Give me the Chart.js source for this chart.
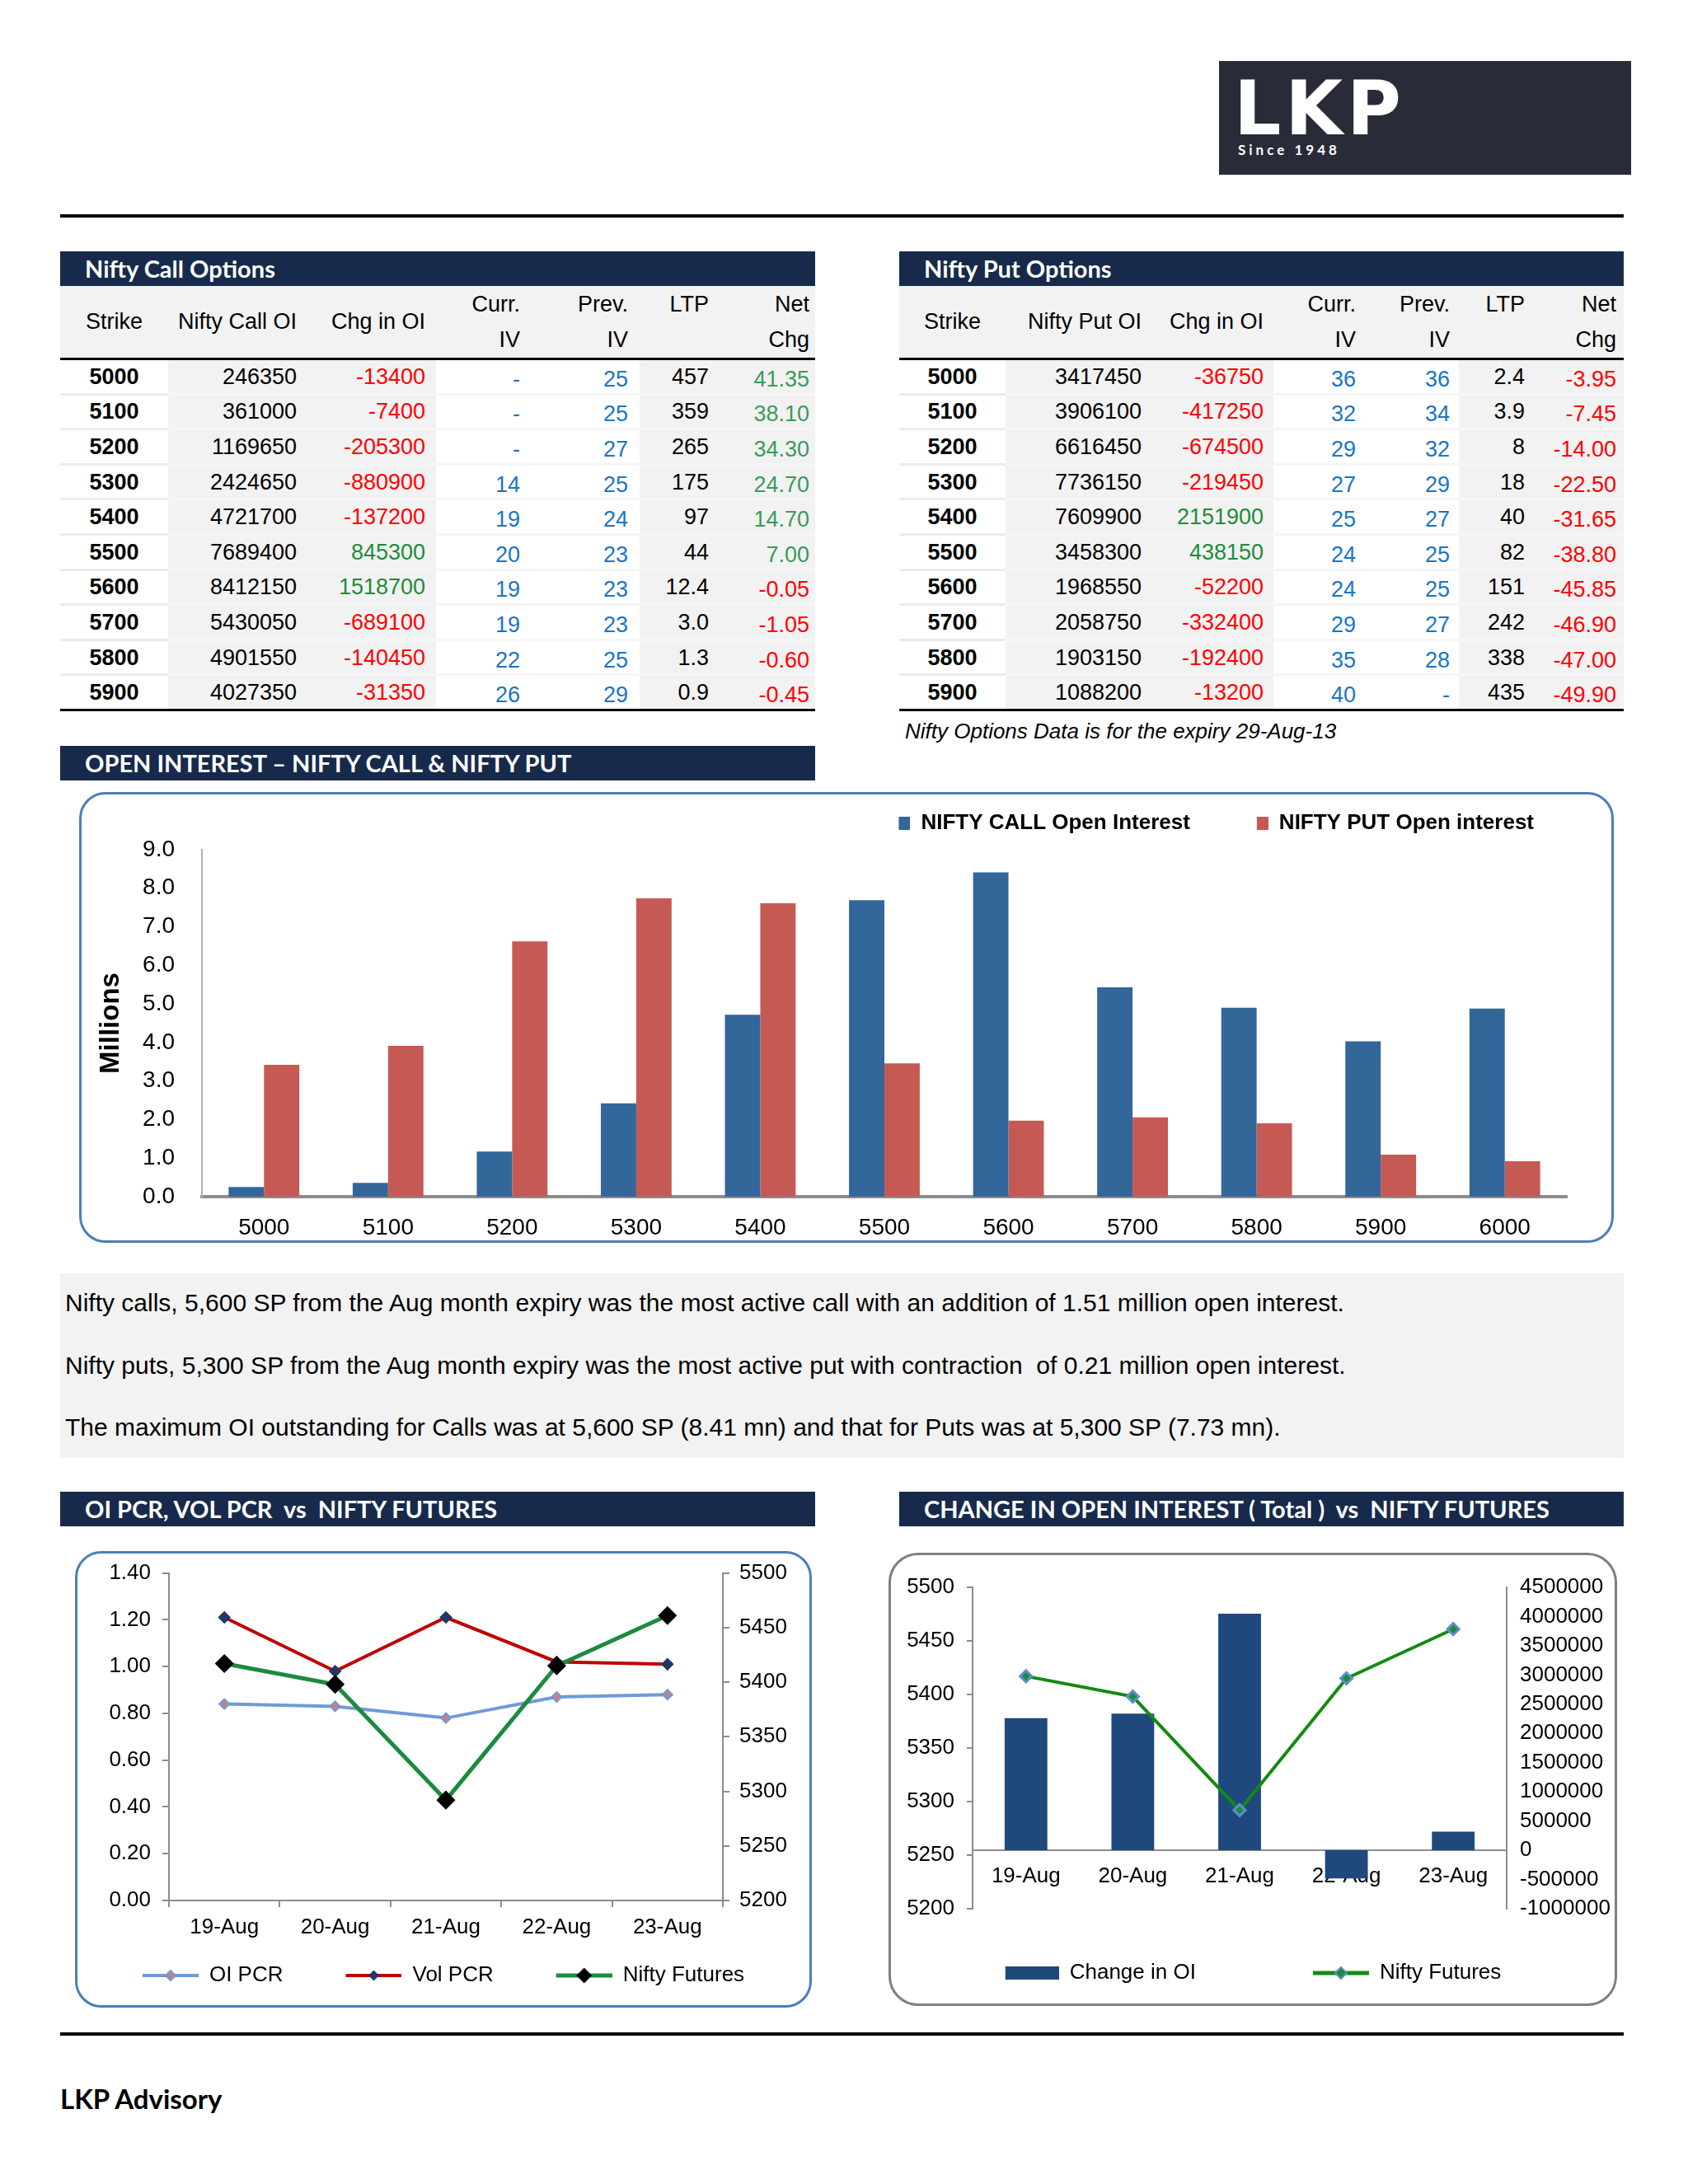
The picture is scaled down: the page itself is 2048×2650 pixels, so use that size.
<!DOCTYPE html>
<html>
<head>
<meta charset="utf-8">
<script src="https://cdn.jsdelivr.net/npm/chart.js@4.4.0/dist/chart.umd.min.js"></script>
<style>
  body { margin: 0; width: 2048px; height: 2650px; background: #fff; position: relative; overflow: hidden;
         font-family: "Liberation Sans", Arial, sans-serif; color: #000; }
  .abs { position: absolute; }
  .logo { left: 1479px; top: 74px; width: 500px; height: 138px; background: #2a2b38; }
  .logo .big { position: absolute; left: 18px; top: 13px; font: 700 90px/1 "DejaVu Sans", sans-serif; color: #fff; letter-spacing: 5px; }
  .logo .since { position: absolute; left: 23px; top: 99px; font: 700 17px/1 Lato, sans-serif; color: #fff; letter-spacing: 4px; }
  .rule { left: 73px; width: 1897px; height: 4px; background: #000; }
  .bar { height: 42px; background: #172a4b; color: #fff; font: 700 29px/42px Lato, sans-serif; box-sizing: border-box; padding-left: 30px; white-space: pre; }
  table.opt { position: absolute; border-collapse: separate; border-spacing: 0; table-layout: fixed; font-size: 27px; }
  table.opt tr.hd { height: 90px; }
  table.opt tr.rw { height: 42.6px; }
  table.opt th { background: #f2f2f2; font-weight: normal; line-height: 43px; text-align: right;
                 border-bottom: 3px solid #000; padding: 0; vertical-align: middle; }
  table.opt td { padding: 0; line-height: 30px; text-align: right; border-bottom: 3px solid #f6f6f6; vertical-align: middle; }
  table.opt td.k { text-align: center; font-weight: bold; background: #fff; border-bottom-color: #ececec; }
  table.opt td.g { background: #f2f2f2; }
  table.opt td.w { background: #fff; }
  table.opt td span.low { position: relative; top: 3px; }
  table.opt tr:last-child td { border-bottom: 3px solid #000; }
  .box { box-sizing: border-box; border: 3px solid #4a7ebb; border-radius: 32px; }
  .note { left: 73px; top: 1545px; width: 1897px; height: 224px; background: #f2f2f2; }
  .note div { position: absolute; left: 6px; font-size: 30px; line-height: 34px; white-space: pre; }
</style>
</head>
<body>

<div class="abs logo"><div class="big">LKP</div><div class="since">Since 1948</div></div>
<div class="abs rule" style="top:260px"></div>

<div class="abs bar" style="left:73px;top:305px;width:916px">Nifty Call Options</div>
<table class="opt" id="callTable" style="left:73px;top:347px;width:916px"></table>

<div class="abs bar" style="left:1091px;top:305px;width:879px">Nifty Put Options</div>
<table class="opt" id="putTable" style="left:1091px;top:347px;width:879px"></table>
<div class="abs" style="left:1098px;top:870px;font-size:26px;font-style:italic;line-height:34px">Nifty Options Data is for the expiry 29-Aug-13</div>

<div class="abs bar" style="left:73px;top:905px;width:916px">OPEN INTEREST – NIFTY CALL &amp; NIFTY PUT</div>
<div class="abs box" style="left:96px;top:961px;width:1862px;height:547px"></div>
<canvas class="abs" id="oiChart" width="1852" height="540" style="left:100px;top:966px"></canvas>

<div class="abs note">
  <div style="top:19px">Nifty calls, 5,600 SP from the Aug month expiry was the most active call with an addition of 1.51 million open interest.</div>
  <div style="top:95px">Nifty puts, 5,300 SP from the Aug month expiry was the most active put with contraction  of 0.21 million open interest.</div>
  <div style="top:170px">The maximum OI outstanding for Calls was at 5,600 SP (8.41 mn) and that for Puts was at 5,300 SP (7.73 mn).</div>
</div>

<div class="abs bar" style="left:73px;top:1810px;width:916px">OI PCR, VOL PCR  vs  NIFTY FUTURES</div>
<div class="abs box" style="left:91px;top:1882px;width:894px;height:554px"></div>
<canvas class="abs" id="pcrChart" width="886" height="553" style="left:95px;top:1879px"></canvas>

<div class="abs bar" style="left:1091px;top:1810px;width:879px">CHANGE IN OPEN INTEREST ( Total )  vs  NIFTY FUTURES</div>
<div class="abs box" style="left:1078px;top:1884px;width:884px;height:550px;border-color:#7f7f7f;border-radius:36px"></div>
<canvas class="abs" id="chgChart" width="892" height="542" style="left:1082px;top:1888px"></canvas>

<div class="abs rule" style="top:2466px"></div>
<div class="abs" style="left:73px;top:2527px;font:700 33px/38px Lato, sans-serif">LKP Advisory</div>

<script>
// option chain tables
const strikes = ["5000", "5100", "5200", "5300", "5400", "5500", "5600", "5700", "5800", "5900"];

const callOI = [246350, 361000, 1169650, 2424650, 4721700, 7689400, 8412150, 5430050, 4901550, 4027350];
const callChg = [-13400, -7400, -205300, -880900, -137200, 845300, 1518700, -689100, -140450, -31350];
const callCurrIV = ["-", "-", "-", "14", "19", "20", "19", "19", "22", "26"];
const callPrevIV = ["25", "25", "27", "25", "24", "23", "23", "23", "25", "29"];
const callLTP = ["457", "359", "265", "175", "97", "44", "12.4", "3.0", "1.3", "0.9"];
const callNetChg = ["41.35", "38.10", "34.30", "24.70", "14.70", "7.00", "-0.05", "-1.05", "-0.60", "-0.45"];

const putOI = [3417450, 3906100, 6616450, 7736150, 7609900, 3458300, 1968550, 2058750, 1903150, 1088200];
const putChg = [-36750, -417250, -674500, -219450, 2151900, 438150, -52200, -332400, -192400, -13200];
const putCurrIV = ["36", "32", "29", "27", "25", "24", "24", "29", "35", "40"];
const putPrevIV = ["36", "34", "32", "29", "27", "25", "25", "27", "28", "-"];
const putLTP = ["2.4", "3.9", "8", "18", "40", "82", "151", "242", "338", "435"];
const putNetChg = ["-3.95", "-7.45", "-14.00", "-22.50", "-31.65", "-38.80", "-45.85", "-46.90", "-47.00", "-49.90"];

// open interest chart (millions)
const oiStrikes = ["5000", "5100", "5200", "5300", "5400", "5500", "5600", "5700", "5800", "5900", "6000"];
const callOIMn = [0.25, 0.36, 1.17, 2.42, 4.72, 7.69, 8.41, 5.43, 4.90, 4.03, 4.88];
const putOIMn = [3.42, 3.91, 6.62, 7.74, 7.61, 3.46, 1.97, 2.06, 1.90, 1.09, 0.92];

// daily series
const days = ["19-Aug", "20-Aug", "21-Aug", "22-Aug", "23-Aug"];
const oiPcr = [0.84, 0.83, 0.78, 0.87, 0.88];
const volPcr = [1.21, 0.98, 1.21, 1.02, 1.01];
const niftyFut = [5417, 5398, 5292, 5415, 5461];
const chgOI = [2260000, 2340000, 4050000, -480000, 320000];

const RED = "#ff0000", GREEN = "#1e8c3a", GREEN2 = "#3a9a5c", BLUE = "#1a75c4";

function fillTable(id, title, widths, pads, cols) {
  const t = document.getElementById(id);
  let html = "<colgroup>" + widths.map(w => `<col style="width:${w}px">`).join("") + "</colgroup>";
  const heads = ["Strike", title, "Chg in OI", "Curr.<br>IV", "Prev.<br>IV", "LTP<br>&nbsp;", "Net<br>Chg"];
  html += '<tr class="hd">' + heads.map((h, i) =>
    `<th style="padding-right:${pads[i]}px;${i === 0 ? "text-align:center" : ""}">${h}</th>`).join("") + "</tr>";
  strikes.forEach((s, r) => {
    const [oi, chg, cur, prev, ltp, net] = cols.map(c => c[r]);
    html += '<tr class="rw">' +
      `<td class="k">${s}</td>` +
      `<td class="g" style="padding-right:${pads[1]}px">${oi}</td>` +
      `<td class="g" style="padding-right:${pads[2]}px;color:${chg < 0 ? RED : GREEN}">${chg}</td>` +
      `<td class="w" style="padding-right:${pads[3]}px;color:${BLUE}"><span class="low">${cur}</span></td>` +
      `<td class="w" style="padding-right:${pads[4]}px;color:${BLUE}"><span class="low">${prev}</span></td>` +
      `<td class="g" style="padding-right:${pads[5]}px">${ltp}</td>` +
      `<td class="g" style="padding-right:${pads[6]}px;color:${net.startsWith("-") ? RED : GREEN2}"><span class="low">${net}</span></td>` +
      "</tr>";
  });
  t.innerHTML = html;
}

fillTable("callTable", "Nifty Call OI", [131, 168, 157, 111, 136, 101, 112], [0, 12, 13, 9, 14, 17, 7],
  [callOI, callChg, callCurrIV, callPrevIV, callLTP, callNetChg]);
fillTable("putTable", "Nifty Put OI", [129, 175, 150, 115, 110, 96, 104], [0, 10, 12, 15, 11, 16, 9],
  [putOI, putChg, putCurrIV, putPrevIV, putLTP, putNetChg]);

// charts
Chart.defaults.font.family = '"Liberation Sans", Arial, sans-serif';
Chart.defaults.color = "#000";

// moves the legend box after layout, so item spacing and position can both match
const legendShift = {
  id: "legendShift",
  afterLayout(chart, args, opts) {
    const lg = chart.legend;
    const dx = opts.dx || 0, dy = opts.dy || 0;
    lg.left += dx; lg.right += dx; lg.top += dy; lg.bottom += dy;
  }
};
Chart.register(legendShift);

function lineSymbol(lead, color, lw, fill, stroke, m) {
  const c = document.createElement("canvas");
  c.width = lead + 68; c.height = 22;
  const g = c.getContext("2d");
  g.strokeStyle = color; g.lineWidth = lw;
  g.beginPath(); g.moveTo(lead, 11); g.lineTo(lead + 68, 11); g.stroke();
  const cx = lead + 34;
  g.beginPath();
  g.moveTo(cx, 11 - m); g.lineTo(cx + m, 11); g.lineTo(cx, 11 + m); g.lineTo(cx - m, 11);
  g.closePath();
  g.fillStyle = fill; g.fill();
  g.strokeStyle = stroke; g.lineWidth = 2; g.stroke();
  return c;
}

function boxSymbol(color, w, h, total) {
  const c = document.createElement("canvas");
  c.width = total; c.height = h;
  const g = c.getContext("2d");
  g.fillStyle = color;
  g.fillRect(total - w, 0, w, h);
  return c;
}

// legend items in dataset order, each with its own drawn symbol
function legendWith(symbols) {
  return chart => {
    const items = Chart.defaults.plugins.legend.labels.generateLabels(chart);
    items.sort((a, b) => a.datasetIndex - b.datasetIndex);
    items.forEach(it => { it.pointStyle = symbols[it.datasetIndex]; });
    return items;
  };
}

const plain = v => String(v);

const CALL_BLUE = "#336699", PUT_RED = "#c55a55";

new Chart(document.getElementById("oiChart"), {
  type: "bar",
  data: {
    labels: oiStrikes,
    datasets: [
      { label: "NIFTY CALL Open Interest", data: callOIMn, backgroundColor: CALL_BLUE, categoryPercentage: 0.57, barPercentage: 1 },
      { label: "NIFTY PUT Open interest", data: putOIMn, backgroundColor: PUT_RED, categoryPercentage: 0.57, barPercentage: 1 }
    ]
  },
  options: {
    responsive: false,
    animation: false,
    layout: { padding: { top: 19, right: 51, bottom: 0, left: 0 } },
    scales: {
      x: {
        grid: { display: false },
        border: { color: "#8c8c8c", width: 4 },
        ticks: { font: { size: 28 }, padding: 13 },
        afterFit(s) { s.height = 54; }
      },
      y: {
        min: 0, max: 9,
        grid: { display: false },
        border: { color: "#b0b0b0", width: 2 },
        ticks: { stepSize: 1, font: { size: 28 }, padding: 25, callback: v => v.toFixed(1) },
        title: { display: true, text: "Millions", font: { size: 33, weight: "bold" }, padding: { top: 15, bottom: 0 } },
        afterFit(s) { s.width = 145; }
      }
    },
    plugins: {
      tooltip: { enabled: false },
      legend: {
        position: "top",
        align: "end",
        labels: {
          usePointStyle: true,
          pointStyleWidth: 85,
          padding: 10,
          font: { size: 26, weight: "bold" },
          generateLabels: legendWith([boxSymbol(CALL_BLUE, 14, 16, 85), boxSymbol(PUT_RED, 14, 16, 85)])
        }
      },
      legendShift: { dx: -30, dy: -9 }
    }
  }
});

const GRID_GREY = "#8c8c8c";

new Chart(document.getElementById("pcrChart"), {
  type: "line",
  data: {
    labels: days,
    datasets: [
      { label: "OI PCR", data: oiPcr, yAxisID: "y", borderColor: "#6f9ad8", borderWidth: 4,
        pointStyle: "rectRot", pointRadius: 6, pointBackgroundColor: "#c77f86", pointBorderColor: "#6f9ad8", pointBorderWidth: 2, order: 2 },
      { label: "Vol PCR", data: volPcr, yAxisID: "y", borderColor: "#c00000", borderWidth: 4,
        pointStyle: "rectRot", pointRadius: 5, pointBackgroundColor: "#1f3864", pointBorderColor: "#1f3864", order: 1 },
      { label: "Nifty Futures", data: niftyFut, yAxisID: "y1", borderColor: "#1d8a3e", borderWidth: 5,
        pointStyle: "rectRot", pointRadius: 8, pointBackgroundColor: "#000", pointBorderColor: "#000", order: 0 }
    ]
  },
  options: {
    responsive: false,
    animation: false,
    layout: { padding: { top: 11, right: 0, bottom: 12, left: 0 } },
    scales: {
      x: {
        offset: true,
        grid: { offset: true, drawOnChartArea: false, tickLength: 8, color: GRID_GREY, lineWidth: 2 },
        border: { color: GRID_GREY, width: 2 },
        ticks: { font: { size: 26 }, padding: 9 },
        afterFit(s) { s.height = 68; }
      },
      y: {
        position: "left", min: 0, max: 1.4,
        grid: { drawOnChartArea: false, tickLength: 8, color: GRID_GREY, lineWidth: 2 },
        border: { color: GRID_GREY, width: 2 },
        ticks: { stepSize: 0.2, font: { size: 26 }, padding: 14, callback: v => v.toFixed(2) },
        afterFit(s) { s.width = 110; }
      },
      y1: {
        position: "right", min: 5200, max: 5500,
        grid: { drawOnChartArea: false, tickLength: 8, color: GRID_GREY, lineWidth: 2 },
        border: { color: GRID_GREY, width: 2 },
        ticks: { stepSize: 50, font: { size: 26 }, padding: 12, callback: plain },
        afterFit(s) { s.width = 104; }
      }
    },
    plugins: {
      tooltip: { enabled: false },
      legend: {
        position: "bottom",
        labels: {
          usePointStyle: true,
          pointStyleWidth: 134,
          padding: 10,
          font: { size: 26 },
          generateLabels: legendWith([
            lineSymbol(66, "#6f9ad8", 4, "#c77f86", "#6f9ad8", 6),
            lineSymbol(66, "#c00000", 4, "#1f3864", "#1f3864", 5),
            lineSymbol(66, "#1d8a3e", 5, "#000", "#000", 8)
          ])
        }
      },
      legendShift: { dx: -33, dy: 0 }
    }
  }
});

const OI_NAVY = "#1f497d", FUT_GREEN = "#138a13";

new Chart(document.getElementById("chgChart"), {
  type: "bar",
  data: {
    labels: days,
    datasets: [
      { type: "bar", label: "Change in OI", data: chgOI, yAxisID: "y1", backgroundColor: OI_NAVY,
        categoryPercentage: 0.8, barPercentage: 0.5, order: 1 },
      { type: "line", label: "Nifty Futures", data: niftyFut, yAxisID: "y", borderColor: FUT_GREEN, borderWidth: 4,
        pointStyle: "rectRot", pointRadius: 7, pointBackgroundColor: "#1e8a3a", pointBorderColor: "#5b8fc9", pointBorderWidth: 3, order: 0 }
    ]
  },
  options: {
    responsive: false,
    animation: false,
    layout: { padding: { top: 38, right: 0, bottom: 68, left: 0 } },
    scales: {
      x: {
        position: { y1: 0 },
        grid: { display: false },
        border: { color: GRID_GREY, width: 2 },
        ticks: { font: { size: 26 }, padding: 8 }
      },
      y: {
        position: "left", min: 5200, max: 5500,
        grid: { drawOnChartArea: false, tickLength: 7, color: GRID_GREY, lineWidth: 2 },
        border: { color: GRID_GREY, width: 2 },
        ticks: { stepSize: 50, font: { size: 26 }, padding: 15, callback: plain },
        afterFit(s) { s.width = 98; }
      },
      y1: {
        position: "right", min: -1000000, max: 4500000,
        grid: { display: false },
        border: { color: GRID_GREY, width: 2 },
        ticks: { stepSize: 500000, font: { size: 26 }, padding: 8, callback: plain },
        afterFit(s) { s.width = 146; }
      }
    },
    plugins: {
      tooltip: { enabled: false },
      legend: {
        position: "bottom",
        labels: {
          usePointStyle: true,
          pointStyleWidth: 200,
          padding: 10,
          font: { size: 26 },
          generateLabels: legendWith([
            boxSymbol(OI_NAVY, 65, 16, 200),
            lineSymbol(132, FUT_GREEN, 5, "#1e8a3a", "#5b8fc9", 7)
          ])
        }
      },
      legendShift: { dx: -75, dy: 55 }
    }
  }
});
</script>
</body>
</html>
